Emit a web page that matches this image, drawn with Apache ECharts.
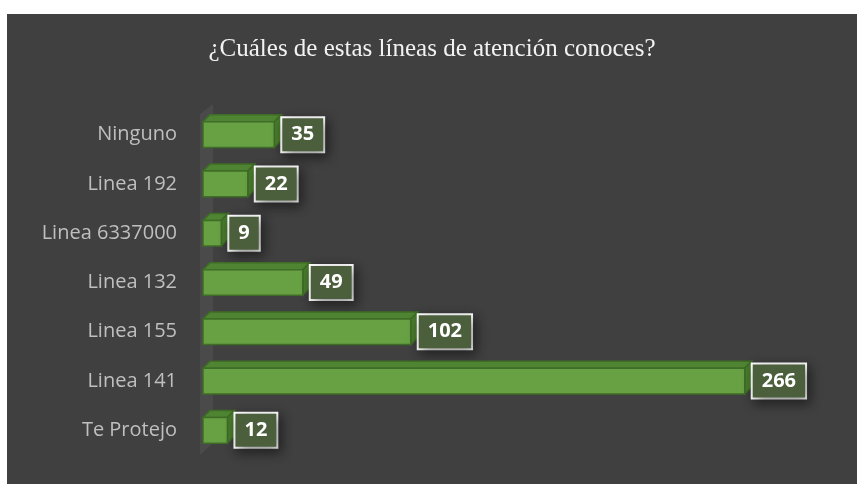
<!DOCTYPE html>
<html>
<head>
<meta charset="utf-8">
<script src="https://cdn.jsdelivr.net/npm/echarts@6/dist/echarts.min.js"></script>
<style>
  html, body { margin: 0; padding: 0; background: #ffffff; }
  #chart { position: absolute; left: 7px; top: 14px; width: 850px; height: 470px; background: #404040; }
</style>
</head>
<body>
<div id="chart"></div>
<script>
// datos
const categories = ['Ninguno', 'Linea 192', 'Linea 6337000', 'Linea 132', 'Linea 155', 'Linea 141', 'Te Protejo'];
const values = [35, 22, 9, 49, 102, 266, 12];
const titleText = '¿Cuáles de estas líneas de atención conoces?';

const chart = echarts.init(document.getElementById('chart'));

const DEPTH = 7;

// barras 3D: cara frontal, superior y lateral
function renderBar(params, api) {
  const start = api.coord([0, api.value(1)]);
  const end = api.coord([api.value(0), api.value(1)]);
  const h = api.size([0, 1])[1] * 0.52;
  const x0 = start[0], x1 = end[0], yc = end[1];
  const y0 = yc - h / 2;
  const d = DEPTH;
  const stroke = '#3f6c26';
  return {
    type: 'group',
    children: [
      {
        type: 'polygon',
        shape: { points: [[x0, y0], [x0 + d, y0 - d], [x1 + d, y0 - d], [x1, y0]] },
        style: { fill: '#4f8532', stroke: stroke, lineWidth: 1.5 }
      },
      {
        type: 'polygon',
        shape: { points: [[x1, y0], [x1 + d, y0 - d], [x1 + d, y0 + h - d], [x1, y0 + h]] },
        style: { fill: '#4a7d2e', stroke: stroke, lineWidth: 1.5 }
      },
      {
        type: 'rect',
        shape: { x: x0, y: y0, width: x1 - x0, height: h },
        style: { fill: '#68a044', stroke: stroke, lineWidth: 1.5 }
      },
      {
        type: 'text',
        x: x1 + d + 1,
        y: yc,
        style: {
          text: String(api.value(0)),
          fill: '#ffffff',
          font: 'bold 20px "Open Sans"',
          align: 'left',
          verticalAlign: 'middle',
          lineHeight: 22,
          backgroundColor: '#4c5f3d',
          borderColor: '#ffffff',
          borderWidth: 2,
          padding: [6, 9, 5, 9],
          shadowColor: 'rgba(0,0,0,0.45)',
          shadowBlur: 12,
          shadowOffsetX: 3,
          shadowOffsetY: 4
        }
      }
    ]
  };
}

// pared lateral del grafico 3D
function renderWall(params, api) {
  const band = api.size([0, 1])[1];
  const top = api.coord([0, 0]);
  const bottom = api.coord([0, categories.length - 1]);
  const x = top[0];
  const yTop = top[1] - band / 2;
  const yBot = bottom[1] + band / 2;
  return {
    type: 'polygon',
    shape: { points: [[x - 3, yTop + 4], [x + 10, yTop - 6], [x + 10, yBot - 12], [x - 3, yBot]] },
    style: { fill: '#4a4a4a' }
  };
}

chart.setOption({
  backgroundColor: '#404040',
  animation: false,
  title: {
    text: titleText,
    left: 'center',
    top: 18,
    textStyle: {
      fontFamily: '"Liberation Serif", serif',
      fontWeight: 'normal',
      fontSize: 25,
      color: '#f2f2f2'
    }
  },
  grid: {
    left: 196,
    top: 96,
    width: 611,
    height: 345,
    containLabel: false
  },
  xAxis: {
    type: 'value',
    min: 0,
    max: 300,
    show: false,
    splitLine: { show: false }
  },
  yAxis: {
    type: 'category',
    data: categories,
    inverse: true,
    axisLine: { show: false },
    axisTick: { show: false },
    axisLabel: {
      color: '#bfbfbf',
      fontFamily: '"Open Sans"',
      fontSize: 20,
      margin: 26
    }
  },
  series: [
    {
      type: 'custom',
      z: 1,
      silent: true,
      renderItem: renderWall,
      data: [[0, 0]],
      encode: { x: 0, y: 1 }
    },
    {
      type: 'custom',
      z: 2,
      renderItem: renderBar,
      data: values.map((v, i) => [v, i]),
      encode: { x: 0, y: 1 }
    }
  ]
});
</script>
</body>
</html>
